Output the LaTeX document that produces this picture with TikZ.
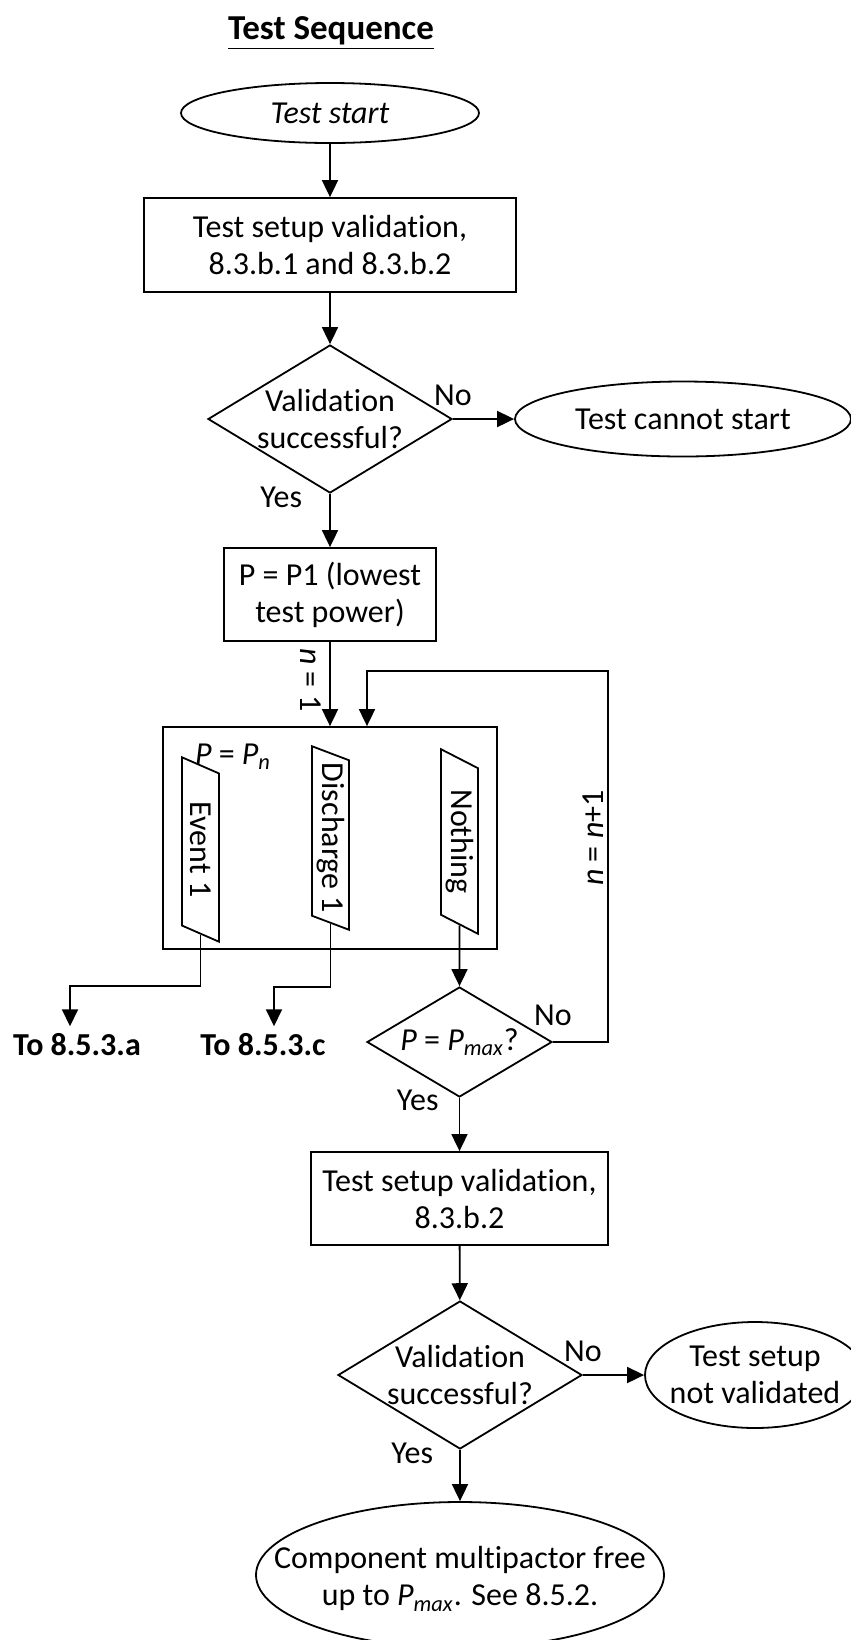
\documentclass[tikz,border=0pt]{standalone}
\usepackage{fontspec}
\setmainfont{Carlito}[Ligatures=CommonOff]
\usetikzlibrary{positioning,
        shapes.geometric,
        arrows.meta}
\newcommand{\Pmax}{\textit{P}\textsubscript{\textit{max}}}

\begin{document}
\begin{tikzpicture}[x=0.5pt,y=-0.5pt,
            font=\fontsize{16}{18.5}\selectfont,
            line width=0.9pt,
            arr/.style={-{Triangle[length=8.5pt,width=8pt]}},
            procbox/.style={rectangle,draw,align=center,inner sep=0pt},
            termbox/.style={ellipse,draw,align=center,inner sep=0pt},
            choice/.style={diamond,draw,align=center,aspect=1.65,inner sep=-3pt},
            outbox/.style={trapezium,draw,trapezium left angle=64,trapezium right angle=116,
                trapezium stretches=true,rotate=-90,minimum width=92.5pt,minimum height=18.5pt,inner sep=0pt},
            destlbl/.style={font=\fontsize{16}{18.5}\selectfont\bfseries},
            lbl/.style={inner sep=2pt}]
            \useasboundingbox (0,0) rectangle (851,1640);

            \node [font=\fontsize{17.5}{20}\selectfont\bfseries] (title) at (331,33) {\underline{Test Sequence}};
            \node [termbox,minimum width=149pt,minimum height=30pt] (start) at (330,113) {\textit{Test start}};
            \node [procbox,minimum width=186pt,minimum height=47pt] (setup1) at (330,245) {Test setup validation,\\8.3.b.1 and 8.3.b.2};
            \node [choice,minimum width=122pt,minimum height=74pt] (valid1) at (330,419) {Validation\\successful?};
            \node [termbox,minimum width=168pt,minimum height=37.5pt] (nostart) at (683,419) {Test cannot start};
            \node [procbox,minimum width=106pt,minimum height=46.5pt] (p1) at (330,594.5) {P = P1 (lowest\\test power)};

            % power step with its three outcomes
            \node [procbox,minimum width=167pt,minimum height=111pt] (big) at (330,838) {};
            \node (pn) at (233,757) {\textit{P} = \textit{P}\textsubscript{\textit{n}}};
            \node [outbox] (ev) at (200.5,849.5) {Event 1};
            \node [outbox] (dc) at (330.5,838) {Discharge 1};
            \node [outbox] (no) at (459.5,841.5) {Nothing};

            \node [choice,minimum width=92.5pt,minimum height=55pt] (pm) at (459.5,1042) {\textit{P} = \Pmax?};
            \node [destlbl] (toA) at (77,1045) {To 8.5.3.a};
            \node [destlbl] (toC) at (263,1045) {To 8.5.3.c};
            \node [procbox,minimum width=148.5pt,minimum height=46.5pt] (setup2) at (459.5,1198.5) {Test setup validation,\\8.3.b.2};
            \node [choice,minimum width=122pt,minimum height=74pt] (valid2) at (460,1375) {Validation\\successful?};
            \node [termbox,minimum width=110pt,minimum height=53pt,
                label={[align=center]center:Test setup\\not validated}] (notval) at (755,1375) {};
            \node [termbox,minimum width=204pt,minimum height=73pt,
                label={[align=center,yshift=-2pt]center:Component multipactor free\\up to \Pmax. See 8.5.2.}] (done) at (460,1575) {};

            \coordinate (loopc) at (608,671);
            \coordinate (evturn) at (70,986);
            \coordinate (dcturn) at (274,987);

            \draw [arr] (start) -- (setup1);
            \draw [arr] (setup1) -- (valid1);
            \draw [arr] (valid1) -- node[lbl,pos=0,above=4pt] (no1) {No} (nostart);
            \draw [arr] (valid1) -- node[lbl,pos=0.07,left=11.5pt] (yes1) {Yes} (p1);
            \draw [arr] (p1) -- node[lbl,pos=0.45,xshift=-2pt,rotate=-90,anchor=north] (n1) {\textit{n} = 1} (big);
            \draw [arr] (ev.east) |- (evturn) -- (evturn |- toA.north);
            \draw [arr] (dc.east) |- (dcturn) -- (dcturn |- toC.north);
            \draw [arr] (no.east) -- (pm);
            \draw [arr] (pm.east) -| node[lbl,pos=0,above=5.5pt] (no2) {No}
                node[lbl,pos=0.775,rotate=90,anchor=south] (nn) {\textit{n} = \textit{n}+1} (loopc)
                -| ([xshift=18.5pt]big.north);
            \draw [arr] (pm) -- node[lbl,pos=0.04,left=8pt] (yes2) {Yes} (setup2);
            \draw [arr] (setup2) -- (valid2);
            \draw [arr] (valid2) -- node[lbl,pos=0,above=4pt] (no3) {No} (notval);
            \draw [arr] (valid2) -- node[lbl,pos=0.07,left=11pt] (yes3) {Yes} (done);
        \end{tikzpicture}
\end{document}
